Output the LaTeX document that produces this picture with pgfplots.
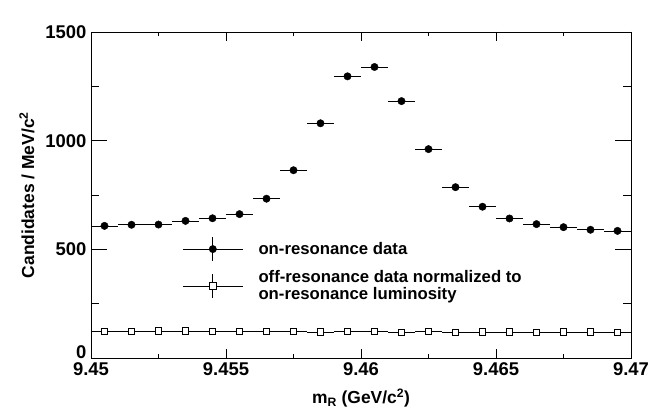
\documentclass[border=0pt]{standalone}
\usepackage{fontspec}
\setmainfont{Liberation Sans}
\usepackage{pgfplots}
\pgfplotsset{compat=1.18}
\usepackage{pgfplotstable}

\pgfplotstableread{
x y ex ey
9.4505 608 0.0005 1
9.4515 613 0.0005 1
9.4525 614 0.0005 1
9.4535 631 0.0005 1
9.4545 643 0.0005 1
9.4555 662 0.0005 1
9.4565 733 0.0005 1
9.4575 864 0.0005 1
9.4585 1080 0.0005 1
9.4595 1296 0.0005 1
9.4605 1339 0.0005 1
9.4615 1182 0.0005 1
9.4625 961 0.0005 1
9.4635 786 0.0005 1
9.4645 696 0.0005 1
9.4655 642 0.0005 1
9.4665 616 0.0005 1
9.4675 602 0.0005 1
9.4685 590 0.0005 1
9.4695 585 0.0005 1
}\onres

\pgfplotstableread{
x y ex ey
9.4505 123 0.0005 1
9.4515 123 0.0005 1
9.4525 124 0.0005 1
9.4535 124 0.0005 1
9.4545 123 0.0005 1
9.4555 122 0.0005 1
9.4565 123 0.0005 1
9.4575 123 0.0005 1
9.4585 120 0.0005 1
9.4595 123 0.0005 1
9.4605 123 0.0005 1
9.4615 118 0.0005 1
9.4625 122 0.0005 1
9.4635 118 0.0005 1
9.4645 120 0.0005 1
9.4655 120 0.0005 1
9.4665 118 0.0005 1
9.4675 120 0.0005 1
9.4685 120 0.0005 1
9.4695 117 0.0005 1
}\offres

\begin{document}
\begin{tikzpicture}
\begin{axis}[
  name=main,
  scale only axis,
  width=540bp, height=326bp,
  xmin=9.45, xmax=9.47, ymin=0, ymax=1500,
  xtick={9.45,9.455,9.46,9.465,9.47},
  xticklabels={9.45,9.455,9.46,9.465,9.47},
  minor xtick={9.4525,9.4575,9.4625,9.4675},
  ytick={0,500,1000,1500},
  yticklabels={\raisebox{6bp}[\height][0pt]{0},500,1000,1500},
  minor ytick={250,750,1250},
  scaled ticks=false,
  tick align=inside,
  xtick pos=both, ytick pos=both,
  major tick length=9bp, minor tick length=4.5bp,
  ytick style={draw=none},
  xtick style={line width=0.8pt, black},
  axis line style={line width=1pt},
  /pgf/number format/assume math mode=true,
  /pgf/number format/1000 sep={},
  ticklabel style={font=\fontsize{18.5}{20}\selectfont\bfseries},
  xticklabel style={yshift=-1bp},
  yticklabel style={xshift=-1bp},
  xlabel={m\textsubscript{R} (GeV/c\textsuperscript{2})},
  ylabel={Candidates / MeV/c\textsuperscript{2}},
  label style={font=\fontsize{17.5}{20}\selectfont\bfseries},
  xlabel style={at={(axis description cs:0.5,-0.1227)}, anchor=center},
  ylabel style={at={(axis description cs:-0.1185,0.5)}, anchor=center, rotate=0},
  legend style={at={(axis cs:9.45327,568)}, anchor=north west, draw=none, fill=none,
    font=\fontsize{16.8}{17.5}\selectfont\bfseries, row sep=7bp,
    cells={align=left, anchor=west}},
  error bars/error bar style={line width=0.7pt, black},
  error bars/error mark=none,
]
\addplot[only marks, mark=*, mark size=3.7bp, black,
  legend image code/.code={
    \draw[line width=0.7pt] (0bp,0bp) -- (60bp,0bp);
    \draw[line width=0.7pt] (30bp,-12bp) -- (30bp,12bp);
    \fill (30bp,0bp) circle[radius=3.7bp];
    \path (73.5bp,0bp);
  },
  error bars/.cd, x dir=both, x explicit, y dir=both, y explicit]
  table[x=x, y=y, x error=ex, y error=ey] {\onres};
\addlegendentry{on-resonance data}
\addplot[only marks, mark=square*, mark size=3.3bp, black, mark options={fill=white, line width=0.8pt},
  legend image code/.code={
    \draw[line width=0.7pt] (0bp,0bp) -- (60bp,0bp);
    \draw[line width=0.7pt] (30bp,-12bp) -- (30bp,12bp);
    \draw[line width=0.8pt, fill=white] (26.7bp,-3.3bp) rectangle (33.3bp,3.3bp);
    \path (73.5bp,0bp);
  },
  error bars/.cd, x dir=both, x explicit, y dir=both, y explicit]
  table[x=x, y=y, x error=ex, y error=ey] {\offres};
\addlegendentry{off-resonance data normalized to\\on-resonance luminosity}
\node[anchor=base west, inner sep=0pt, font=\fontsize{16.5}{19}\selectfont\bfseries]
  at ([xshift=0.7bp, yshift=5.3bp]rel axis cs:0,1) {×10\textsuperscript{3}};
\end{axis}
\begin{axis}[
  scale only axis,
  width=540bp, height=326bp,
  xmin=9.45, xmax=9.47, ymin=0, ymax=1500,
  xtick=\empty,
  ytick={0,500,1000,1500},
  minor ytick={250,750,1250},
  yticklabels={},
  tick align=inside,
  ytick pos=both,
  major tick length=16bp, minor tick length=8bp,
  ytick style={line width=0.8pt, black},
  axis line style={draw=none},
]
\end{axis}
\pgfresetboundingbox
\path ([xshift=-91bp, yshift=-52bp]main.south west) rectangle ([xshift=39bp, yshift=32bp]main.north east);
\end{tikzpicture}
\end{document}
